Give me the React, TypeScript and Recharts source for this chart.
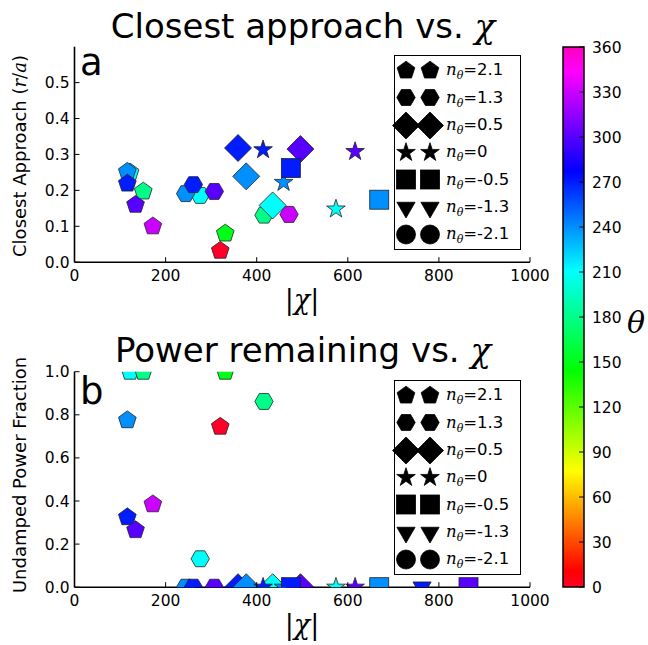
import React from "react";
import {
  ScatterChart,
  Scatter,
  XAxis,
  YAxis,
  Legend,
  ComposedChart,
  ReferenceArea,
} from "recharts";

const SANS = "'DejaVu Sans', sans-serif";
const MATH = "'DejaVu Serif', serif";

// legend groups (one marker shape per n_theta)
const nThetaLabels = ["2.1", "1.3", "0.5", "0", "-0.5", "-1.3", "-2.1"];
const markerShapes = ["pentagon", "hexagon", "diamond", "star", "square", "triangle", "circle"];

// one entry per run
const runGroup = [0, 0, 0, 0, 0, 0, 0, 0, 1, 1, 1, 1, 1, 1, 2, 2, 2, 2, 3, 3, 3, 3, 4, 4, 4, 5];
const runChi = [122, 116, 116, 151, 134, 172, 331, 320, 276, 244, 261, 307, 416, 471, 359, 377, 435, 496, 414, 459, 574, 616, 475, 669, 865, 763];
const runClosest = [0.25, 0.252, 0.219, 0.197, 0.16, 0.1, 0.08, 0.032, 0.186, 0.191, 0.216, 0.197, 0.131, 0.133, 0.318, 0.239, 0.158, 0.315, 0.313, 0.222, 0.148, 0.308, 0.262, 0.174, 0.2, 0.19];
const runPower = [1.0, 0.775, 0.325, 1.0, 0.265, 0.385, 1.0, 0.745, 0.132, 0.0, 0.0, 0.0, 0.862, 0.0, 0.0, 0.0, 0.0, 0.0, 0.0, 0.0, 0.0, 0.0, 0.0, 0.0, 0.0, 0.0];
const runTheta = [210, 240, 270, 180, 300, 330, 150, 0, 210, 240, 270, 300, 180, 330, 270, 240, 210, 300, 270, 240, 210, 300, 270, 240, 300, 270];

const chiTicks = [0, 200, 400, 600, 800, 1000];
const closestTicks = [0, 0.1, 0.2, 0.3, 0.4, 0.5];
const powerTicks = [0, 0.2, 0.4, 0.6, 0.8, 1.0];
const thetaTicks = [0, 30, 60, 90, 120, 150, 180, 210, 240, 270, 300, 330, 360];

// gist_rainbow colormap stops
const cmapStops: [number, number[]][] = [
  [0, [1, 0, 0.16]],
  [0.03, [1, 0, 0]],
  [0.215, [1, 1, 0]],
  [0.4, [0, 1, 0]],
  [0.586, [0, 1, 1]],
  [0.77, [0, 0, 1]],
  [0.954, [1, 0, 1]],
  [1, [1, 0, 0.75]],
];

const toHex = (c: number[]) =>
  "#" + c.map((v) => Math.round(v * 255).toString(16).padStart(2, "0")).join("");

function thetaColor(theta: number) {
  const v = Math.max(0, Math.min(1, theta / 360));
  for (let i = 1; i < cmapStops.length; i++) {
    const [p0, c0] = cmapStops[i - 1];
    const [p1, c1] = cmapStops[i];
    if (v <= p1) {
      const t = (v - p0) / (p1 - p0);
      return toHex(c0.map((a, k) => a + (c1[k] - a) * t));
    }
  }
  return toHex(cmapStops[cmapStops.length - 1][1]);
}

const groups = nThetaLabels.map((_, gi) =>
  runGroup
    .map((g, i) => ({ g, chi: runChi[i], closest: runClosest[i], power: runPower[i], theta: runTheta[i] }))
    .filter((d) => d.g === gi)
);

function poly(cx: number, cy: number, r: number, n: number, start: number) {
  const pts = [];
  for (let k = 0; k < n; k++) {
    const a = ((start + (360 / n) * k) * Math.PI) / 180;
    pts.push(`${cx + r * Math.cos(a)},${cy + r * Math.sin(a)}`);
  }
  return pts.join(" ");
}

function starPts(cx: number, cy: number, ro: number, ri: number) {
  const pts = [];
  for (let k = 0; k < 10; k++) {
    const a = ((-90 + 36 * k) * Math.PI) / 180;
    const r = k % 2 === 0 ? ro : ri;
    pts.push(`${cx + r * Math.cos(a)},${cy + r * Math.sin(a)}`);
  }
  return pts.join(" ");
}

function Marker({ kind, cx, cy, fill, stroke = "#222" }: any) {
  const common = { fill, stroke, strokeWidth: 0.8 };
  switch (kind) {
    case "pentagon":
      return <polygon points={poly(cx, cy, 9.3, 5, -90)} {...common} />;
    case "hexagon":
      return <polygon points={poly(cx, cy, 9.2, 6, 0)} {...common} />;
    case "diamond":
      return <polygon points={poly(cx, cy, 13.5, 4, -90)} {...common} />;
    case "star":
      return <polygon points={starPts(cx, cy, 9.8, 3.8)} {...common} />;
    case "square":
      return <rect x={cx - 9.5} y={cy - 9.5} width={19} height={19} {...common} />;
    case "triangle":
      return <polygon points={poly(cx, cy, 10.5, 3, 90)} {...common} />;
    default:
      return <circle cx={cx} cy={cy} r={9.5} {...common} />;
  }
}

const LeftTick = (props: any) => {
  const { x, y, payload } = props;
  return (
    <g>
      <line x1={x} y1={y} x2={x + 5} y2={y} stroke="#000" strokeWidth={1} />
      <text x={x - 5} y={y + 5.5} textAnchor="end" fontSize={15.5} fontFamily={SANS} fill="#000">
        {Number(payload.value).toFixed(1)}
      </text>
    </g>
  );
};

const BottomTick = (props: any) => {
  const { x, y, payload } = props;
  return (
    <g>
      <line x1={x} y1={y} x2={x} y2={y - 5} stroke="#000" strokeWidth={1} />
      <text x={x} y={y + 19} textAnchor="middle" fontSize={15.5} fontFamily={SANS} fill="#000">
        {payload.value}
      </text>
    </g>
  );
};

const BarTick = (props: any) => {
  const { x, y, payload } = props;
  return (
    <g>
      <line x1={x} y1={y} x2={x - 5} y2={y} stroke="#000" strokeWidth={1} />
      <text x={x + 8} y={y + 5.5} textAnchor="start" fontSize={15.5} fontFamily={SANS} fill="#000">
        {payload.value}
      </text>
    </g>
  );
};

const ShapeLegend = () => (
  <div
    style={{
      width: 127,
      background: "#fff",
      border: "1.5px solid #000",
      boxSizing: "border-box",
      padding: "1px 0",
    }}
  >
    {nThetaLabels.map((lab, i) => (
      <div key={lab} style={{ display: "flex", alignItems: "center", height: 27.3 }}>
        <svg width={52} height={27} style={{ overflow: "visible", flex: "none", marginLeft: -1 }}>
          <Marker kind={markerShapes[i]} cx={12} cy={13.5} fill="#000" stroke="#000" />
          <Marker kind={markerShapes[i]} cx={36} cy={13.5} fill="#000" stroke="#000" />
        </svg>
        <span style={{ fontFamily: SANS, fontSize: 16.5, lineHeight: 1, whiteSpace: "nowrap" }}>
          <span style={{ fontFamily: MATH, fontStyle: "italic" }}>n</span>
          <span style={{ fontFamily: MATH, fontStyle: "italic", fontSize: 11, position: "relative", top: 4 }}>θ</span>
          ={lab}
        </span>
      </div>
    ))}
  </div>
);

function Panel({ yKey, yDomain, yTicks, top, height }: any) {
  return (
    <div style={{ position: "absolute", left: 0, top, width: 648, height }}>
      <ScatterChart
        width={648}
        height={height}
        margin={{ top: 46.7, right: 118, left: 64.5, bottom: height - 46.7 - 215.5 - 10 }}
      >
        <XAxis
          type="number"
          dataKey="chi"
          domain={[0, 1000]}
          ticks={chiTicks}
          allowDataOverflow
          height={10}
          tickSize={0}
          tickMargin={0}
          tickLine={false}
          tick={<BottomTick />}
          axisLine={{ stroke: "#000", strokeWidth: 1.6 }}
        />
        <YAxis
          type="number"
          dataKey={yKey}
          domain={yDomain}
          ticks={yTicks}
          allowDataOverflow
          width={10}
          tickSize={0}
          tickMargin={0}
          tickLine={false}
          tick={<LeftTick />}
          axisLine={{ stroke: "#000", strokeWidth: 1.6 }}
        />
        {groups.map((data, gi) => (
          <Scatter
            key={gi}
            name={nThetaLabels[gi]}
            data={data}
            isAnimationActive={false}
            shape={(p: any) => (
              <Marker kind={markerShapes[gi]} cx={p.cx} cy={p.cy} fill={thetaColor(p.payload.theta)} />
            )}
          />
        ))}
        <Legend
          layout="vertical"
          align="center"
          verticalAlign="middle"
          content={<ShapeLegend />}
          wrapperStyle={{ left: 394, top: 55, width: 127 }}
        />
      </ScatterChart>
    </div>
  );
}

const cbData = [
  { c: 0.5, theta: 0 },
  { c: 0.5, theta: 360 },
];

export default function App() {
  return (
    <div style={{ position: "absolute", left: 0, top: 0, width: 648, height: 645, background: "#fff" }}>
      <Panel yKey="closest" yDomain={[0, 0.6]} yTicks={closestTicks} top={0} height={325} />
      <Panel yKey="power" yDomain={[0, 1]} yTicks={powerTicks} top={325} height={320} />

      <div style={{ position: "absolute", left: 540, top: 0, width: 108, height: 645 }}>
        <ComposedChart width={108} height={645} data={cbData} margin={{ top: 47, bottom: 58, left: 23, right: 44 }}>
          <defs>
            <linearGradient id="cbGrad" x1="0" y1="1" x2="0" y2="0">
              {cmapStops.map(([p, c]) => (
                <stop key={p} offset={p} stopColor={toHex(c)} />
              ))}
            </linearGradient>
          </defs>
          <XAxis type="number" dataKey="c" domain={[0, 1]} hide />
          <YAxis
            type="number"
            dataKey="theta"
            orientation="right"
            domain={[0, 360]}
            ticks={thetaTicks}
            width={20}
            tickSize={0}
            tickMargin={0}
            tickLine={false}
            axisLine={false}
            tick={<BarTick />}
          />
          <ReferenceArea x1={0} x2={1} y1={0} y2={360} fill="url(#cbGrad)" fillOpacity={1} stroke="#000" strokeWidth={1.5} />
        </ComposedChart>
      </div>

      <svg width={648} height={645} style={{ position: "absolute", left: 0, top: 0, pointerEvents: "none" }}>
        <text x={303} y={38} textAnchor="middle" fontSize={34} fontFamily={SANS}>
          Closest approach vs. <tspan fontFamily={MATH} fontStyle="italic">χ</tspan>
        </text>
        <text x={303} y={362} textAnchor="middle" fontSize={34} fontFamily={SANS}>
          Power remaining vs. <tspan fontFamily={MATH} fontStyle="italic">χ</tspan>
        </text>
        <text x={80} y={75} fontSize={37} fontFamily={SANS}>a</text>
        <text x={80} y={404} fontSize={37} fontFamily={SANS}>b</text>
        <text x={302} y={309} textAnchor="middle" fontSize={27} fontFamily={MATH}>
          |<tspan fontStyle="italic">χ</tspan>|
        </text>
        <text x={302} y={634} textAnchor="middle" fontSize={27} fontFamily={MATH}>
          |<tspan fontStyle="italic">χ</tspan>|
        </text>
        <text transform="translate(26,156) rotate(-90)" textAnchor="middle" fontSize={18} fontFamily={SANS}>
          Closest Approach (<tspan fontFamily={MATH} fontStyle="italic">r</tspan>
          <tspan fontFamily={MATH}>/</tspan>
          <tspan fontFamily={MATH} fontStyle="italic">a</tspan>)
        </text>
        <text transform="translate(26,475) rotate(-90)" textAnchor="middle" fontSize={18} fontFamily={SANS}>
          Undamped Power Fraction
        </text>
        <text x={636} y={333} textAnchor="middle" fontSize={30} fontFamily={MATH} fontStyle="italic">
          θ
        </text>
      </svg>
    </div>
  );
}
